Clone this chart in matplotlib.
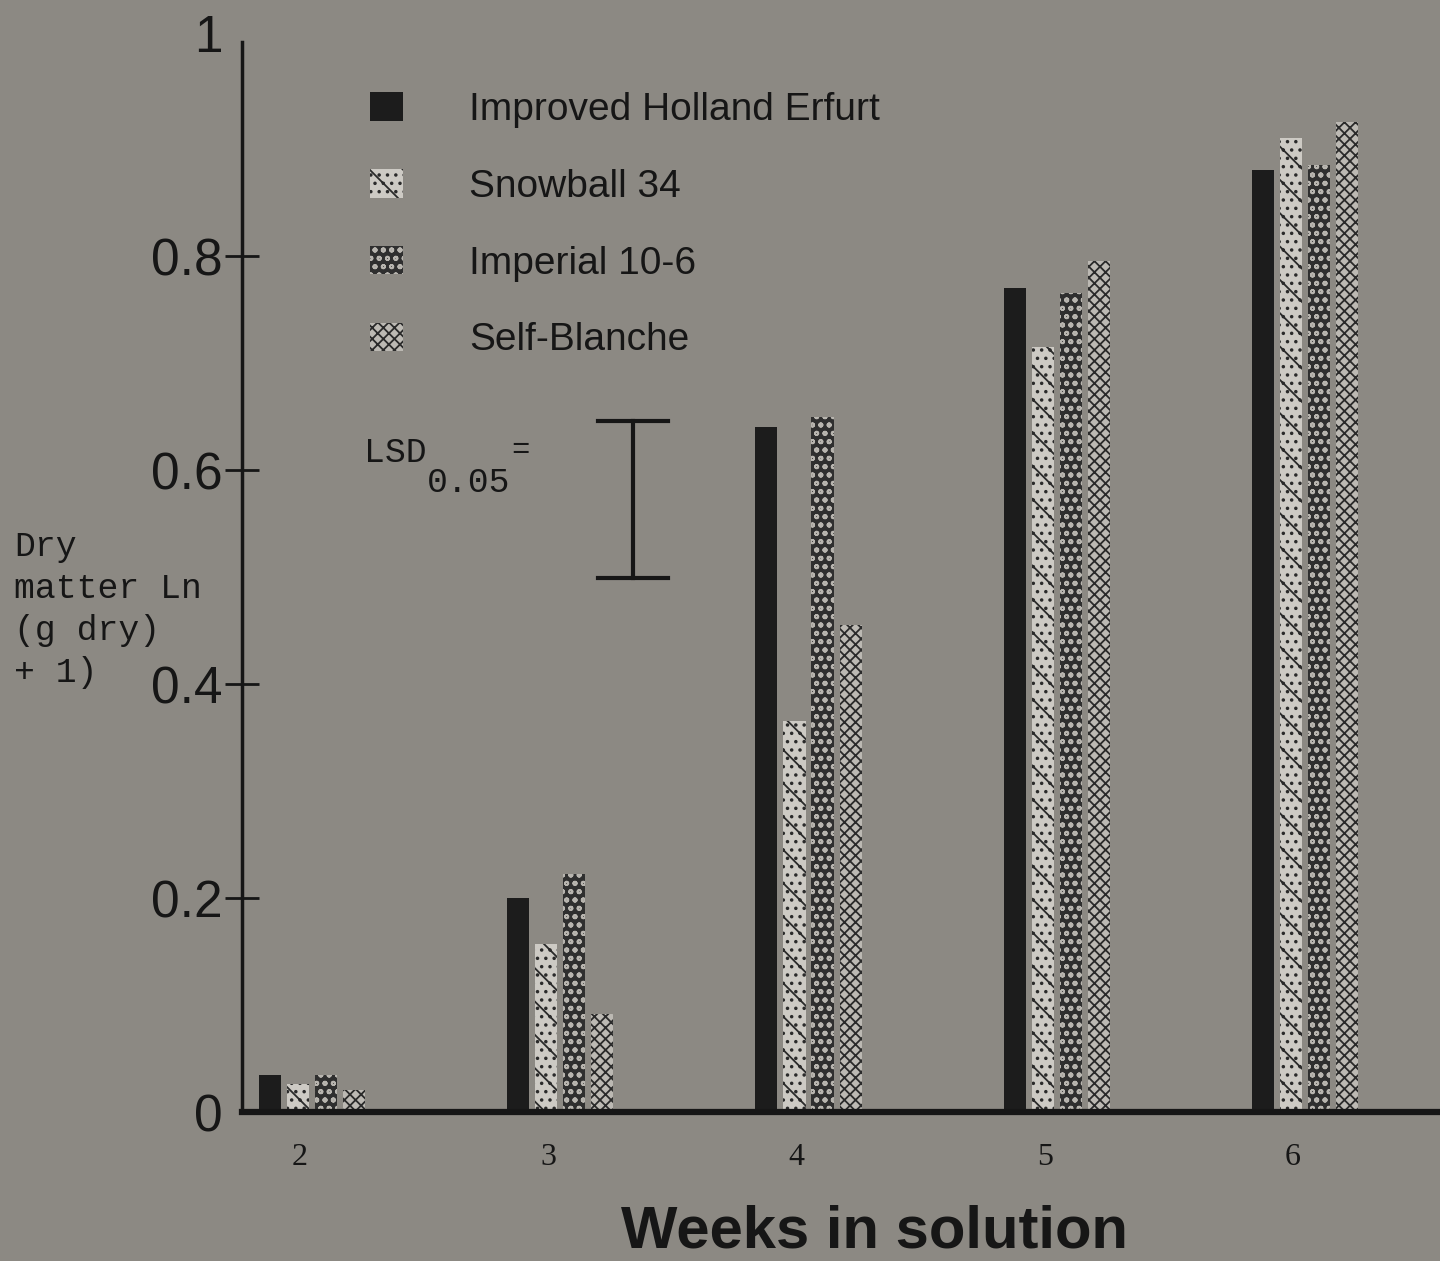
import numpy as np
import matplotlib.pyplot as plt
import matplotlib.transforms as mtransforms

weeks = [2, 3, 4, 5, 6]
varieties = ['Improved Holland Erfurt', 'Snowball 34', 'Imperial 10-6', 'Self-Blanche']
improved = [0.035, 0.20, 0.64, 0.77, 0.88]
snowball = [0.026, 0.157, 0.365, 0.715, 0.91]
imperial = [0.035, 0.222, 0.65, 0.765, 0.885]
selfbl = [0.021, 0.092, 0.455, 0.795, 0.925]
lsd_top, lsd_bottom = 0.646, 0.499

bg = '#8c8983'
ink = '#161616'
plt.rcParams['hatch.linewidth'] = 1.3

fig = plt.figure(figsize=(14.4, 12.61), dpi=100, facecolor=bg)
ax = fig.add_axes([242/1440, 1-1112/1261, 1-242/1440, (1112-42)/1261])
ax.set_facecolor(bg)

styles = [
    dict(color='#1c1c1c', edgecolor='#1c1c1c', hatch=None),
    dict(color='#cdcac4', edgecolor='#2a2a2a', hatch='..\\'),
    dict(color='#2f2f2f', edgecolor='#b8b5af', hatch='oo'),
    dict(color='#bcb9b3', edgecolor='#2a2a2a', hatch='xxx'),
]
series = [improved, snowball, imperial, selfbl]
x = np.array(weeks, dtype=float)
w = 0.089
step = 0.113
offs = (np.arange(4) - 1.5) * step
for i, vals in enumerate(series):
    ax.bar(x + offs[i], vals, width=w, linewidth=0, label=varieties[i], **styles[i])

ax.set_xlim(1.718, 6.544)
ax.set_ylim(0, 1)

for s in ['top', 'right']:
    ax.spines[s].set_visible(False)
ax.spines['left'].set_linewidth(2.5)
ax.spines['left'].set_color(ink)
ax.spines['bottom'].set_linewidth(4.5)
ax.spines['bottom'].set_color(ink)

ax.set_yticks([0, 0.2, 0.4, 0.6, 0.8, 1.0])
ax.set_yticklabels(['0', '0.2', '0.4', '0.6', '0.8', '1'])
ax.tick_params(axis='y', direction='inout', length=24, width=2, color=ink, pad=2,
               labelsize=37, labelcolor=ink)
for lab in ax.get_yticklabels():
    lab.set_family('Liberation Sans')
ylabs = ax.get_yticklabels()
ylabs[-1].set_transform(ylabs[-1].get_transform() +
                        mtransforms.ScaledTranslation(0, 0.09, fig.dpi_scale_trans))
ax.yaxis.get_major_ticks()[0].tick1line.set_visible(False)
ax.yaxis.get_major_ticks()[-1].tick1line.set_visible(False)

ax.set_xticks(weeks)
ax.set_xticklabels([str(v) for v in weeks])
ax.tick_params(axis='x', length=0, pad=22, labelsize=23, labelcolor=ink)
shift = mtransforms.ScaledTranslation(-12/100, 0, fig.dpi_scale_trans)
for lab in ax.get_xticklabels():
    lab.set_family('Liberation Serif')
    lab.set_transform(lab.get_transform() + shift)

fig.text(875/1440, 1-1248/1261, 'Weeks in solution', ha='center', va='baseline',
         fontsize=43, fontweight='bold', family='Liberation Sans', color=ink)

ylab = ['Dry', 'matter Ln', '(g dry)', '+ 1)']
for k, line in enumerate(ylab):
    fig.text(14/1440, 1-(556 + k*42)/1261, line, ha='left', va='baseline',
             fontsize=25, family='Liberation Mono', color=ink)

# LSD bar
lx = 3.294
ax.plot([lx, lx], [lsd_bottom, lsd_top], color=ink, lw=3)
for yy in [lsd_bottom, lsd_top]:
    ax.plot([lx - 0.14, lx + 0.14], [yy, yy], color=ink, lw=3)
fig.text(364/1440, 1-462/1261, 'LSD', ha='left', va='baseline', fontsize=25,
         family='Liberation Mono', color=ink)
fig.text(427/1440, 1-492/1261, '0.05', ha='left', va='baseline', fontsize=25,
         family='Liberation Mono', color=ink)
fig.text(511/1440, 1-458/1261, '=', ha='left', va='baseline', fontsize=22,
         family='Liberation Mono', color=ink)

leg = ax.legend(loc='upper left', bbox_to_anchor=(370/1440, 1-92/1261),
                bbox_transform=fig.transFigure, frameon=False, borderpad=0,
                borderaxespad=0, handlelength=0.85, handleheight=0.75,
                handletextpad=1.7, labelspacing=1.05,
                prop={'family': 'Liberation Sans', 'size': 28})
for t in leg.get_texts():
    t.set_color(ink)

fig.savefig('out.png', dpi=100, facecolor=bg)
